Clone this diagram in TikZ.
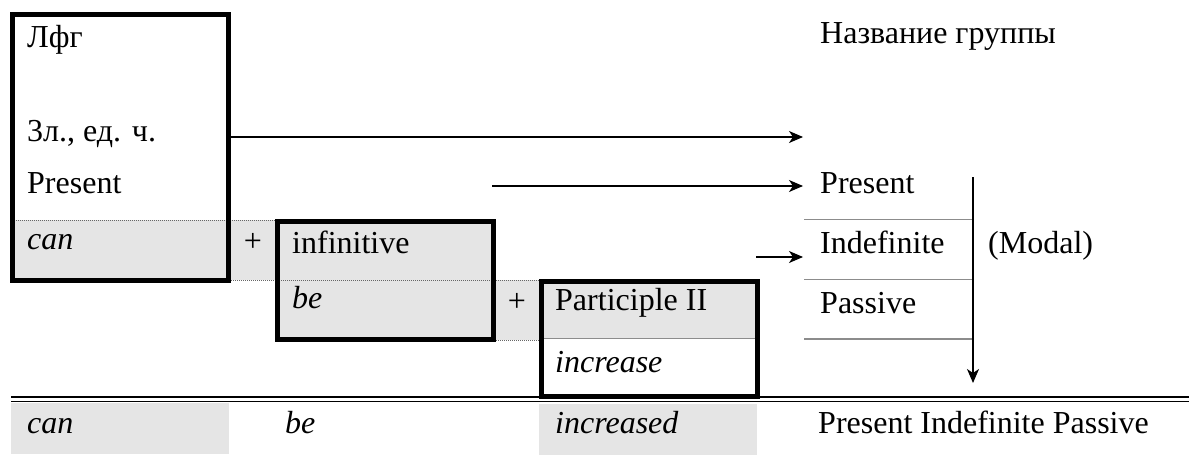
\documentclass[tikz,border=0pt]{standalone}
\usepackage{fontspec}
\setmainfont{Liberation Serif}
\usetikzlibrary{arrows.meta}
\begin{document}
\begin{tikzpicture}[x=1pt,y=-1pt,
  txt/.style={anchor=base west,inner sep=0pt,font=\fontsize{32}{38}\selectfont},
  itx/.style={anchor=base west,inner sep=0pt,font=\fontsize{32}{38}\selectfont\itshape},
  plus/.style={anchor=base,inner sep=0pt,font=\fontsize{32}{38}\selectfont},
  cellfill/.style={fill=black!10},
  thickbox/.style={draw=black,line width=5pt,outer sep=0pt,inner sep=0pt,anchor=north west},
  dots/.style={draw=black!60,line width=1pt,dash pattern=on 1pt off 1pt},
  sepline/.style={draw=black!45,line width=1pt},
  arr/.style={-{Stealth[length=14pt,width=12pt,inset=4pt]},line width=1.3pt}
]
\useasboundingbox (0,0) rectangle (1189,455);
% fills
\fill[cellfill] (14,220) rectangle (229,281);
\fill[cellfill] (231,220) rectangle (277,280);
\fill[cellfill] (277,221) rectangle (494,340);
\fill[cellfill] (494,280) rectangle (541,340);
\fill[cellfill] (541,281) rectangle (758,338);
\fill[cellfill] (11,403) rectangle (229,454);
\fill[cellfill] (539,404) rectangle (757,455);
% dotted cell borders
\draw[dots] (14,220) -- (277,220);
\draw[dots] (229,280) -- (277,280);
\draw[dots] (277,280) -- (494,280);
\draw[dots] (494,280) -- (541,280);
\draw[dots] (494,340) -- (541,340);
% separators
\draw[sepline] (541,338) -- (758,338);
\draw[sepline] (804,219) -- (972,219);
\draw[sepline] (804,279) -- (972,279);
\draw[sepline,line width=2pt] (804,339) -- (972,339);
% double rule
\draw[line width=2pt] (11,397) -- (1189,397);
\draw[line width=1pt] (11,401.5) -- (1189,401.5);
% thick boxes
\node[thickbox,minimum width=216pt,minimum height=266pt] (lfg) at (12.5,14.5) {};
\node[thickbox,minimum width=216pt,minimum height=118pt] (inf) at (277.5,221.5) {};
\node[thickbox,minimum width=216pt,minimum height=115pt] (part) at (541.5,281.5) {};
% texts
\node[txt] (t1) at (27,47) {Лфг};
\node[txt] (t2) at (27,141) {3л., ед. ч.};
\node[txt] (t3) at (27,193) {Present};
\node[itx] (t4) at (27,249) {can};
\node[plus] (p1) at (253,251) {+};
\node[txt] (t5) at (292,253) {infinitive};
\node[itx] (t6) at (292,308) {be};
\node[plus] (p2) at (517,311) {+};
\node[txt] (t7) at (555,310) {Participle II};
\node[itx] (t8) at (555,372) {increase};
\node[txt] (r0) at (820,43) {Название группы};
\node[txt] (r1) at (820,193) {Present};
\node[txt] (r2) at (820,253) {Indefinite};
\node[txt] (r3) at (820,313) {Passive};
\node[txt] (r4) at (988,253) {(Modal)};
\node[itx] (b1) at (27,433) {can};
\node[itx] (b2) at (285,433) {be};
\node[itx] (b3) at (555,433) {increased};
\node[txt] (b4) at (818,433) {Present Indefinite Passive};
% arrows
\coordinate (a1s) at (231,137);
\coordinate (a1e) at (803,137);
\coordinate (a2s) at (492,186);
\coordinate (a2e) at (803,186);
\coordinate (a3s) at (756,257);
\coordinate (a3e) at (803,257);
\coordinate (v1s) at (973,177);
\coordinate (v1e) at (973,383);
\draw[arr] (a1s) -- (a1e);
\draw[arr] (a2s) -- (a2e);
\draw[arr] (a3s) -- (a3e);
\draw[arr] (v1s) -- (v1e);
\end{tikzpicture}
\end{document}
